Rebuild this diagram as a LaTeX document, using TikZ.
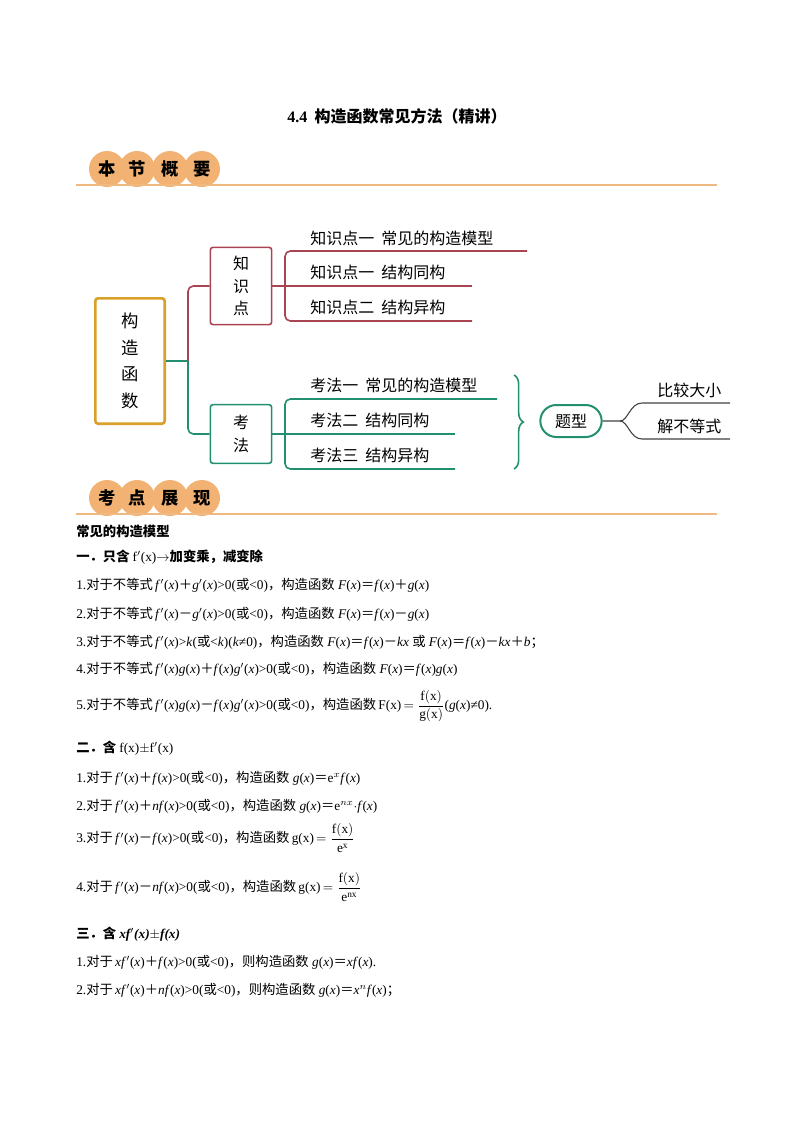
\documentclass[tikz,border=0pt]{standalone}
\usepackage{fontspec}
\setmainfont{Liberation Serif}
\newfontfamily\cjk{Noto Sans CJK SC}
\usetikzlibrary{decorations.pathreplacing}
\newcommand{\C}[1]{{\cjk #1}}
\newcommand{\Pl}{{\cjk ＋}}
\newcommand{\Mi}{{\cjk －}}
\newcommand{\Eq}{{\cjk ＝}}
\definecolor{ora}{HTML}{F2B274}
\definecolor{oraline}{HTML}{EFB97F}
\definecolor{gold}{HTML}{D9A02A}
\definecolor{rd}{HTML}{A94452}
\definecolor{gr}{HTML}{229070}
\tikzset{
 badge/.style={circle,fill=ora,minimum size=27pt,inner sep=0pt,font=\cjk\bfseries\fontsize{13}{13}\selectfont},
 rdline/.style={draw=rd,line width=1.2pt,rounded corners=4pt},
 grline/.style={draw=gr,line width=1.2pt,rounded corners=4pt},
 mm/.style={anchor=west,font=\cjk\fontsize{12}{14}\selectfont,inner sep=0pt},
 body/.style={anchor=west,inner sep=0pt,font=\fontsize{10}{12}\selectfont},
 head/.style={anchor=west,inner sep=0pt,font=\cjk\bfseries\fontsize{10}{12}\selectfont},
}
\begin{document}
\begin{tikzpicture}[x=0.75pt,y=-0.75pt]
\useasboundingbox (0,0) rectangle (794,1122);
\node[font=\cjk\bfseries\fontsize{12}{14}\selectfont] (title) at (397,116) {{\rmfamily\bfseries 4.4}\ \ 构造函数常见方法（精讲）};
% banner 1
\foreach \t/\x [count=\i] in {本/107,节/137,概/170,要/202}{\node[badge] (b\i) at (\x,169) {\t};}
\draw[oraline,line width=2pt] (76,185) -- (717,185);
% mind map
\node[draw=gold,line width=2pt,rounded corners=2pt,minimum width=52pt,minimum height=94pt,align=center,font=\cjk\fontsize{13}{20}\selectfont] (root) at (130,361) {构\\造\\函\\数};
\node[draw=rd,line width=1.2pt,rounded corners=2pt,minimum width=46pt,minimum height=58pt,align=center,font=\cjk\fontsize{12}{17}\selectfont] (zs) at (241,286) {知\\识\\点};
\node[draw=gr,line width=1.2pt,rounded corners=2pt,minimum width=46pt,minimum height=44pt,align=center,font=\cjk\fontsize{12}{17}\selectfont] (kf) at (241,434) {考\\法};
\coordinate (j) at (188,361);
\draw[gr,line width=1.2pt] (root.east) -- (j);
\draw[rdline] (j) -- (188,286) -- (zs.west);
\draw[grline] (j) -- (188,434) -- (kf.west);
% knowledge branch
\draw[rdline] (527,251) -- (285,251) -- (285,321) -- (472,321);
\draw[rdline] (zs.east) -- (472,286);
\node[mm] (z1) at (310,238) {知识点一\ \ 常见的构造模型};
\node[mm] (z2) at (310,272) {知识点一\ \ 结构同构};
\node[mm] (z3) at (310,307) {知识点二\ \ 结构异构};
% method branch
\draw[grline] (497,399) -- (285,399) -- (285,469) -- (455,469);
\draw[grline] (kf.east) -- (455,434);
\node[mm] (k1) at (310,385) {考法一\ \ 常见的构造模型};
\node[mm] (k2) at (310,420) {考法二\ \ 结构同构};
\node[mm] (k3) at (310,455) {考法三\ \ 结构异构};
\draw[gr,line width=1.2pt,decorate,decoration={brace,amplitude=7pt}] (514,375) -- (514,469);
\node[draw=gr,line width=1.5pt,rounded corners=12pt,minimum width=46pt,minimum height=24pt,font=\cjk\fontsize{12}{14}\selectfont] (tx) at (571,421) {题型};
\coordinate (f) at (620,421);
\draw[black!75,line width=0.8pt] (tx.east) -- (f) .. controls (628,421) and (630,403) .. (642,403) -- (730,403);
\draw[black!75,line width=0.8pt] (f) .. controls (628,421) and (630,439) .. (642,439) -- (730,439);
\node[mm] (t1) at (657,390) {比较大小};
\node[mm] (t2) at (657,426) {解不等式};
% banner 2
\foreach \t/\x [count=\i] in {考/107,点/137,展/170,现/202}{\node[badge] (c\i) at (\x,498) {\t};}
\draw[oraline,line width=2pt] (76,514) -- (717,514);
% body
\node[head] (h0) at (76,531) {常见的构造模型};
\node[head] (h1) at (76,557) {一．只含 {\rmfamily\mdseries f$'$(x)$\rightarrow$}加变乘，减变除};
\node[body] (l1) at (76,585) {1.\C{对于不等式}\,\textit{f}$'$(\textit{x})\Pl\textit{g}$'$(\textit{x})>0(\C{或}<0)\C{，构造函数}\ \textit{F}(\textit{x})\Eq\textit{f}(\textit{x})\Pl\textit{g}(\textit{x})};
\node[body] (l2) at (76,614) {2.\C{对于不等式}\,\textit{f}$'$(\textit{x})\Mi\textit{g}$'$(\textit{x})>0(\C{或}<0)\C{，构造函数}\ \textit{F}(\textit{x})\Eq\textit{f}(\textit{x})\Mi\textit{g}(\textit{x})};
\node[body] (l3) at (76,642) {3.\C{对于不等式}\,\textit{f}$'$(\textit{x})>\textit{k}(\C{或}<\textit{k})(\textit{k}≠0)\C{，构造函数}\ \textit{F}(\textit{x})\Eq\textit{f}(\textit{x})\Mi\textit{kx}\ \C{或}\ \textit{F}(\textit{x})\Eq\textit{f}(\textit{x})\Mi\textit{kx}\Pl\textit{b}\C{；}};
\node[body] (l4) at (76,669) {4.\C{对于不等式}\,\textit{f}$'$(\textit{x})\textit{g}(\textit{x})\Pl\textit{f}(\textit{x})\textit{g}$'$(\textit{x})>0(\C{或}<0)\C{，构造函数}\ \textit{F}(\textit{x})\Eq\textit{f}(\textit{x})\textit{g}(\textit{x})};
\node[body] (l5) at (76,706) {5.\C{对于不等式}\,\textit{f}$'$(\textit{x})\textit{g}(\textit{x})\Mi\textit{f}(\textit{x})\textit{g}$'$(\textit{x})>0(\C{或}<0)\C{，构造函数}\,F(x)$\,=\displaystyle\frac{\mathrm{f(x)}}{\mathrm{g(x)}}$(\textit{g}(\textit{x})≠0).};
\node[head] (h2) at (76,748) {二．含 {\rmfamily\mdseries f(x)$\pm$f$'$(x)}};
\node[body] (m1) at (76,778) {1.\C{对于}\,\textit{f}$'$(\textit{x})\Pl\textit{f}(\textit{x})>0(\C{或}<0)\C{，构造函数}\ \textit{g}(\textit{x})\Eq e$^{x}$\textit{f}(\textit{x})};
\node[body] (m2) at (76,806) {2.\C{对于}\,\textit{f}$'$(\textit{x})\Pl\textit{nf}(\textit{x})>0(\C{或}<0)\C{，构造函数}\ \textit{g}(\textit{x})\Eq e$^{nx}$$\cdot$\textit{f}(\textit{x})};
\node[body] (m3) at (76,838) {3.\C{对于}\,\textit{f}$'$(\textit{x})\Mi\textit{f}(\textit{x})>0(\C{或}<0)\C{，构造函数}\,g(x)$\,=\displaystyle\frac{\mathrm{f(x)}}{\mathrm{e}^{\mathrm{x}}}$};
\node[body] (m4) at (76,887) {4.\C{对于}\,\textit{f}$'$(\textit{x})\Mi\textit{nf}(\textit{x})>0(\C{或}<0)\C{，构造函数}\,g(x)$\,=\displaystyle\frac{\mathrm{f(x)}}{\mathrm{e}^{\mathrm{nx}}}$};
\node[head] (h3) at (76,934) {三．含 {\rmfamily\itshape xf$'$(x)$\pm$f(x)}};
\node[body] (n1) at (76,962) {1.\C{对于}\,\textit{xf}$'$(\textit{x})\Pl\textit{f}(\textit{x})>0(\C{或}<0)\C{，则构造函数}\ \textit{g}(\textit{x})\Eq\textit{xf}(\textit{x}).};
\node[body] (n2) at (76,990) {2.\C{对于}\,\textit{xf}$'$(\textit{x})\Pl\textit{nf}(\textit{x})>0(\C{或}<0)\C{，则构造函数}\ \textit{g}(\textit{x})\Eq\textit{x}$^{n}$\textit{f}(\textit{x})\C{；}};
\end{tikzpicture}
\end{document}
